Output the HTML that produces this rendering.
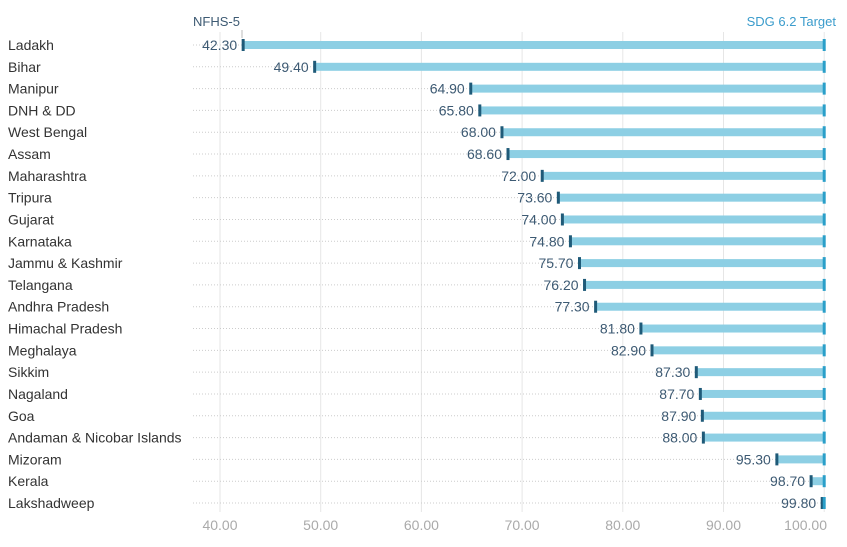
<!DOCTYPE html>
<html><head><meta charset="utf-8"><style>
body{margin:0;background:#fff;font-family:"Liberation Sans",sans-serif}
</style></head><body>
<svg width="847" height="542" xmlns="http://www.w3.org/2000/svg" font-family="Liberation Sans, sans-serif">
<g id="g"></g>
</svg>
<script>
const d=[["Ladakh",42.3],["Bihar",49.4],["Manipur",64.9],["DNH & DD",65.8],["West Bengal",68],["Assam",68.6],["Maharashtra",72],["Tripura",73.6],["Gujarat",74],["Karnataka",74.8],["Jammu & Kashmir",75.7],["Telangana",76.2],["Andhra Pradesh",77.3],["Himachal Pradesh",81.8],["Meghalaya",82.9],["Sikkim",87.3],["Nagaland",87.7],["Goa",87.9],["Andaman & Nicobar Islands",88],["Mizoram",95.3],["Kerala",98.7],["Lakshadweep",99.8]];
const X=v=>220+(v-40)*10.07;
let s='';
for(let t=40;t<=100;t+=10){s+=`<line x1="${X(t)}" y1="32" x2="${X(t)}" y2="512" stroke="#e6e6e6"/>`;
if(t<100)s+=`<text x="${X(t)}" y="530" text-anchor="middle" font-size="14" fill="#aaa">${t.toFixed(2)}</text>`;
else s+=`<text x="827" y="530" text-anchor="end" font-size="14" fill="#aaa">100.00</text>`;}
s+=`<text x="193" y="26" font-size="13" fill="#3d5a73">NFHS-5</text><line x1="242" y1="30" x2="242" y2="38" stroke="#bbb"/>`;
s+=`<text x="836" y="26" font-size="13" fill="#3b9ccc" text-anchor="end">SDG 6.2 Target</text>`;
d.forEach((r,i)=>{const y=45+i*21.81,x=X(r[1]);
s+=`<line x1="193" y1="${y}" x2="${x}" y2="${y}" stroke="#ccc" stroke-dasharray="1,2"/>`;
s+=`<text x="8" y="${y+5}" font-size="14" fill="#333">${r[0].replace('&','&amp;')}</text>`;
s+=`<rect x="${x}" y="${y-4}" width="${X(100)-x}" height="8" fill="#8dcfe4"/>`;
s+=`<rect x="${x-1.5}" y="${y-6}" width="3" height="12" fill="#1f5a78"/>`;
s+=`<rect x="${X(100)-1.5}" y="${y-6}" width="3" height="12" fill="#2a9fc9"/>`;
s+=`<text x="${x-6}" y="${y+5}" font-size="14" fill="#3d5a73" text-anchor="end">${r[1].toFixed(2)}</text>`;});
document.getElementById('g').innerHTML=s;
</script>
</body></html>
